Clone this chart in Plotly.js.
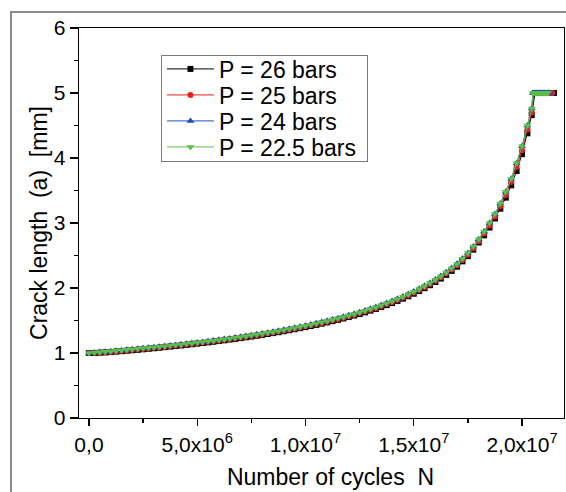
<!DOCTYPE html>
<html>
<head>
<meta charset="utf-8">
<script src="https://cdn.plot.ly/plotly-3.0.1.min.js"></script>
<style>
  html, body { margin: 0; padding: 0; background: #ffffff; overflow: hidden; }
  #frame { position: absolute; left: 10px; top: 11px; width: 700px; height: 700px; border: 2px solid #8c8c8c; }
  #chart { position: absolute; left: 0; top: 0; width: 566px; height: 492px; }
</style>
</head>
<body>
<div id="frame"></div>
<div id="chart"></div>
<script>
// Number of cycles N (grid of the growing part of the curves)
const cycles = [0,2.5e5,5e5,7.5e5,1e6,1.25e6,1.5e6,1.75e6,2e6,2.25e6,2.5e6,2.75e6,3e6,3.25e6,3.5e6,3.75e6,4e6,4.25e6,4.5e6,4.75e6,
  5e6,5.25e6,5.5e6,5.75e6,6e6,6.25e6,6.5e6,6.75e6,7e6,7.25e6,7.5e6,7.75e6,8e6,8.25e6,8.5e6,8.75e6,9e6,9.25e6,9.5e6,9.75e6,
  1e7,1.025e7,1.05e7,1.075e7,1.1e7,1.125e7,1.15e7,1.175e7,1.2e7,1.225e7,1.25e7,1.275e7,1.3e7,1.325e7,1.35e7,1.375e7,1.4e7,1.425e7,1.45e7,1.475e7,
  1.5e7,1.525e7,1.55e7,1.575e7,1.6e7,1.625e7,1.65e7,1.675e7,1.7e7,1.725e7,1.75e7,1.775e7,1.8e7,1.825e7,1.85e7,1.875e7,1.9e7,1.925e7,1.95e7,1.975e7,
  2e7,2.025e7,2.045e7];

// Crack length a [mm]
const a26 = [1.000,1.000,1.004,1.008,1.014,1.021,1.028,1.035,1.042,1.049,1.057,1.065,1.073,1.081,1.090,1.098,1.107,1.116,1.125,1.134,
  1.144,1.153,1.163,1.173,1.184,1.195,1.206,1.217,1.229,1.241,1.253,1.266,1.279,1.292,1.306,1.320,1.335,1.350,1.366,1.382,
  1.398,1.415,1.433,1.451,1.470,1.490,1.510,1.531,1.553,1.576,1.600,1.625,1.651,1.678,1.707,1.737,1.768,1.801,1.836,1.873,
  1.912,1.953,1.997,2.043,2.092,2.145,2.202,2.263,2.328,2.41,2.49,2.59,2.70,2.81,2.93,3.07,3.22,3.39,3.58,3.80,
  4.06,4.38,4.66];
const a25 = [1.000,1.002,1.008,1.014,1.021,1.028,1.035,1.042,1.050,1.057,1.065,1.073,1.081,1.089,1.098,1.107,1.116,1.125,1.134,1.143,
  1.153,1.163,1.173,1.183,1.194,1.205,1.216,1.227,1.239,1.251,1.264,1.277,1.290,1.303,1.317,1.331,1.346,1.361,1.377,1.393,
  1.410,1.427,1.445,1.463,1.482,1.502,1.523,1.544,1.566,1.590,1.614,1.640,1.666,1.693,1.722,1.752,1.784,1.818,1.853,1.890,
  1.930,1.971,2.015,2.062,2.112,2.165,2.222,2.284,2.350,2.43,2.51,2.61,2.72,2.84,2.96,3.10,3.26,3.43,3.63,3.86,
  4.12,4.44,4.70];
const a24 = [1.000,1.007,1.014,1.021,1.028,1.035,1.043,1.050,1.057,1.065,1.073,1.081,1.089,1.097,1.106,1.115,1.124,1.133,1.142,1.152,
  1.161,1.171,1.181,1.192,1.203,1.214,1.225,1.237,1.249,1.261,1.274,1.287,1.300,1.313,1.327,1.342,1.357,1.372,1.388,1.404,
  1.421,1.439,1.457,1.476,1.495,1.515,1.536,1.558,1.580,1.604,1.628,1.654,1.680,1.708,1.737,1.768,1.800,1.834,1.870,1.908,
  1.947,1.989,2.033,2.081,2.131,2.185,2.244,2.307,2.374,2.455,2.54,2.64,2.75,2.87,3.00,3.14,3.30,3.48,3.68,3.92,
  4.18,4.50,4.76];
const a225 = [1.000,1.006,1.013,1.020,1.027,1.034,1.042,1.049,1.056,1.064,1.072,1.080,1.088,1.096,1.105,1.114,1.123,1.132,1.141,1.150,
  1.160,1.170,1.180,1.190,1.201,1.212,1.224,1.235,1.247,1.259,1.272,1.285,1.298,1.311,1.325,1.340,1.355,1.370,1.386,1.402,
  1.419,1.436,1.454,1.473,1.492,1.512,1.533,1.555,1.577,1.601,1.625,1.651,1.677,1.705,1.734,1.765,1.797,1.831,1.866,1.904,
  1.943,1.985,2.029,2.077,2.127,2.181,2.239,2.302,2.369,2.45,2.54,2.64,2.75,2.87,3.00,3.14,3.30,3.48,3.68,3.92,
  4.18,4.50,4.76];

// Final (saturated) part: crack length held at 5 mm
const tailN26 = [2.06e7,2.066e7,2.072e7,2.078e7,2.084e7,2.09e7,2.096e7,2.102e7,2.108e7,2.114e7,2.12e7,2.126e7,2.132e7,2.138e7,2.144e7,2.148e7];
const tailA26 = [5,5,5,5,5,5,5,5,5,5,5,5,5,5,5,5];
const tailN25 = [2.055e7,2.061e7,2.067e7,2.073e7,2.079e7,2.085e7,2.091e7,2.097e7,2.103e7,2.109e7,2.115e7,2.121e7,2.127e7,2.133e7,2.14e7];
const tailA25 = [5,5,5,5,5,5,5,5,5,5,5,5,5,5,5];
const tailN24 = [2.05e7,2.056e7,2.062e7,2.068e7,2.074e7,2.08e7,2.086e7,2.092e7,2.098e7,2.104e7,2.11e7,2.116e7,2.122e7,2.13e7];
const tailA24 = [5,5,5,5,5,5,5,5,5,5,5,5,5,5];
const tailN225 = [2.05e7,2.056e7,2.062e7,2.068e7,2.074e7,2.08e7,2.086e7,2.092e7,2.098e7,2.104e7,2.11e7,2.116e7,2.12e7];
const tailA225 = [5,5,5,5,5,5,5,5,5,5,5,5,5];

const seriesNames = ['P = 26 bars','P = 25 bars','P = 24 bars','P = 22.5 bars'];
const xTickVals = [0,5e6,1e7,1.5e7,2e7];
const xTickText = ['0,0','5,0x10<sup>6</sup>','1,0x10<sup>7</sup>','1,5x10<sup>7</sup>','2,0x10<sup>7</sup>'];

const styles = [
  {color:'#000000', symbol:'square', size:6},
  {color:'#ee1c1c', symbol:'circle', size:6},
  {color:'#1c4fb5', symbol:'triangle-up', size:7},
  {color:'#5cc048', symbol:'triangle-down', size:7}
];
const ys = [a26, a25, a24, a225];
const tailsN = [tailN26, tailN25, tailN24, tailN225];
const tailsA = [tailA26, tailA25, tailA24, tailA225];

const traces = ys.map((a, i) => ({
  type: 'scatter',
  mode: 'lines+markers',
  name: seriesNames[i],
  x: cycles.concat(tailsN[i]),
  y: a.concat(tailsA[i]),
  line: {color: styles[i].color, width: 1},
  marker: {color: styles[i].color, symbol: styles[i].symbol, size: styles[i].size, line: {width: 0}}
}));

const font = {family: '"Liberation Sans", Arial, sans-serif', color: '#000'};

const layout = {
  width: 566, height: 492,
  margin: {l: 79, r: 2, t: 28, b: 74},
  paper_bgcolor: 'rgba(0,0,0,0)',
  plot_bgcolor: '#ffffff',
  font: Object.assign({size: 21}, font),
  showlegend: true,
  legend: {
    x: 0.169, y: 0.931, xanchor: 'left', yanchor: 'top',
    bgcolor: '#ffffff', bordercolor: '#7a7a7a', borderwidth: 1,
    font: Object.assign({size: 23}, font),
    itemwidth: 47, tracegroupgap: 0
  },
  xaxis: {
    range: [-4.6e5, 2.194e7],
    tickmode: 'array', tickvals: xTickVals, ticktext: xTickText,
    ticks: 'outside', ticklen: 7, tickwidth: 1.3, tickcolor: '#000',
    minor: {tickmode: 'linear', tick0: 0, dtick: 2.5e6, ticks: 'outside', ticklen: 4, tickwidth: 1.3, tickcolor: '#000'},
    showline: true, linecolor: '#000', linewidth: 1.3, mirror: true,
    showgrid: false, zeroline: false,
    tickfont: Object.assign({size: 21}, font),
    title: {text: 'Number of cycles  N', font: Object.assign({size: 23}, font), standoff: 8}
  },
  yaxis: {
    range: [0, 6],
    tickmode: 'linear', tick0: 0, dtick: 1,
    ticks: 'outside', ticklen: 8, tickwidth: 1.3, tickcolor: '#000',
    minor: {tickmode: 'linear', tick0: 0, dtick: 0.5, ticks: 'outside', ticklen: 4, tickwidth: 1.3, tickcolor: '#000'},
    showline: true, linecolor: '#000', linewidth: 1.3, mirror: true,
    showgrid: false, zeroline: false,
    tickfont: Object.assign({size: 21}, font),
    title: {text: 'Crack length  (a)  [mm]', font: Object.assign({size: 23}, font), standoff: 0}
  }
};

// Fine placement tweaks to match the reference layout
function adjust(gd) {
  const rowGap = 26, firstRow = 14;
  const items = gd.querySelectorAll('.legend .traces');
  items.forEach((el, i) => {
    const t = el.getAttribute('transform') || '';
    const m = /translate\(\s*([-\d.]+)[ ,]+([-\d.]+)\s*\)/.exec(t);
    const x = m ? parseFloat(m[1]) : 0;
    el.setAttribute('transform', 'translate(' + x + ',' + (firstRow + rowGap * i) + ')');
  });
  const bg = gd.querySelector('.legend .bg');
  if (bg) {
    bg.setAttribute('height', String(firstRow + rowGap * (items.length - 1) + 14));
    bg.setAttribute('width', '206');
  }
  const xt = gd.querySelector('.g-xtitle');
  if (xt) xt.setAttribute('transform', 'translate(9,6)');
  const yt = gd.querySelector('.g-ytitle');
  if (yt) yt.setAttribute('transform', 'translate(1,0)');
}

const gd = document.getElementById('chart');
Plotly.newPlot(gd, traces, layout, {displayModeBar: false, staticPlot: true}).then(() => {
  adjust(gd);
  gd.on('plotly_afterplot', () => adjust(gd));
});
</script>
</body>
</html>
